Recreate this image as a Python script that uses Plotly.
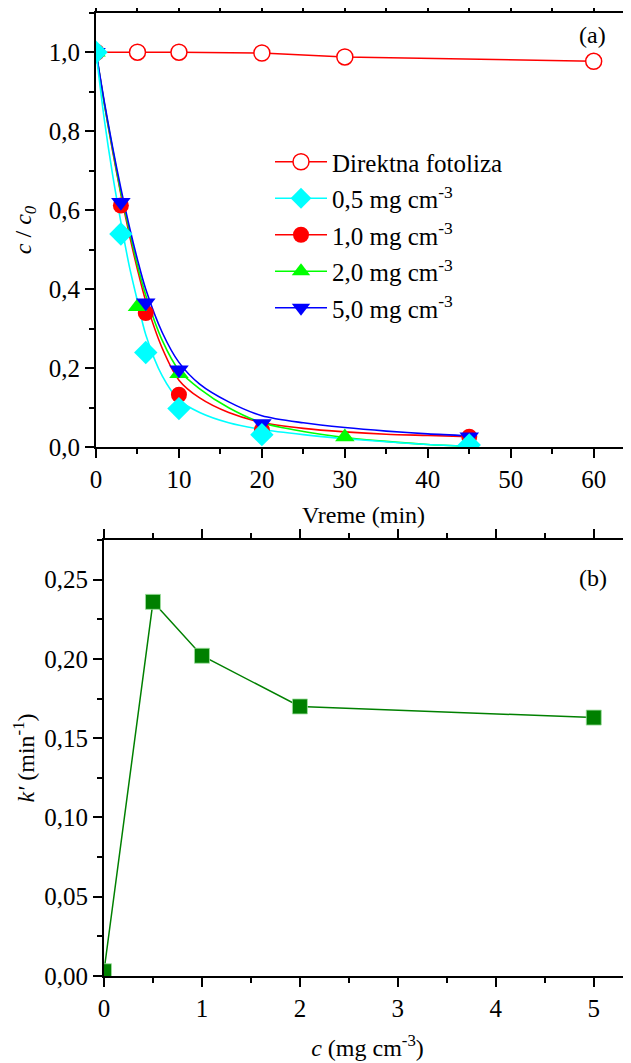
import plotly.graph_objects as go

# ---------------- data: panel (a) ----------------
t_direct = [0, 5, 10, 20, 30, 60]
c_direct = [1.0, 1.0, 1.0, 0.998, 0.988, 0.977]

t_05 = [0, 3, 6, 10, 20, 45]
c_05 = [1.0, 0.54, 0.24, 0.098, 0.032, 0.006]
t_10 = [0, 3, 6, 10, 20, 45]
c_10 = [1.0, 0.612, 0.34, 0.133, 0.044, 0.027]
t_20 = [0, 5, 10, 30, 45]
c_20 = [1.0, 0.356, 0.186, 0.026, 0.006]
t_50 = [0, 3, 6, 10, 20, 45]
c_50 = [1.0, 0.62, 0.366, 0.196, 0.06, 0.027]

# fitted curves
t_fit = [0, 1, 2, 3, 4, 5, 6, 8, 10, 12.5, 16, 20, 25, 30, 35, 40, 45]
fit_05 = [1.0, 0.83, 0.69, 0.57, 0.46, 0.37, 0.285, 0.18, 0.12, 0.088, 0.062, 0.045, 0.032, 0.022, 0.014, 0.007, 0.002]
fit_10 = [1.0, 0.87, 0.75, 0.64, 0.54, 0.45, 0.37, 0.25, 0.17, 0.125, 0.088, 0.063, 0.048, 0.039, 0.033, 0.030, 0.027]
fit_20 = [1.0, 0.87, 0.755, 0.645, 0.55, 0.46, 0.385, 0.27, 0.195, 0.148, 0.10, 0.062, 0.040, 0.025, 0.015, 0.007, 0.002]
fit_50 = [1.0, 0.875, 0.76, 0.655, 0.56, 0.475, 0.40, 0.29, 0.215, 0.16, 0.115, 0.08, 0.062, 0.05, 0.041, 0.034, 0.029]

legend_names = ["Direktna fotoliza",
                "0,5 mg cm<sup>-3</sup>",
                "1,0 mg cm<sup>-3</sup>",
                "2,0 mg cm<sup>-3</sup>",
                "5,0 mg cm<sup>-3</sup>"]

# ---------------- data: panel (b) ----------------
c_cat = [0, 0.5, 1, 2, 5]
k_rate = [0.003, 0.236, 0.202, 0.170, 0.163]

FONT = "Liberation Serif"
RED = "#ff0000"
CYAN = "#00ffff"
GREEN = "#00ff00"
BLUE = "#0000ff"
DGREEN = "#008000"

# page body has an 8px margin: work in window pixels and convert
OFF = 8
W, H = 631 - OFF, 1063 - OFF


def px(x):
    return (x - OFF) / W


def py(y):
    return 1 - (y - OFF) / H


fig = go.Figure()

leg_styles = [
    (RED, dict(symbol="circle", size=16, color="white", line=dict(color=RED, width=1.5))),
    (CYAN, dict(symbol="diamond", size=18, color=CYAN)),
    (RED, dict(symbol="circle", size=16, color=RED)),
    (GREEN, dict(symbol="triangle-up", size=17, color=GREEN)),
    (BLUE, dict(symbol="triangle-down", size=17, color=BLUE)),
]
for i, (name, (col, mk)) in enumerate(zip(legend_names, leg_styles)):
    fig.add_trace(go.Scatter(x=[None], y=[None], mode="lines+markers", name=name,
                             line=dict(color=col, width=1.5), marker=mk,
                             legendgroup=f"g{i}", showlegend=True,
                             xaxis="x", yaxis="y"))

for tf, yf, col in [(t_fit, fit_10, RED), (t_fit, fit_20, GREEN), (t_fit, fit_50, BLUE), (t_fit, fit_05, CYAN)]:
    fig.add_trace(go.Scatter(x=tf, y=yf, mode="lines", line=dict(color=col, width=1.6, shape="spline", smoothing=0.8),
                             showlegend=False, hoverinfo="skip", xaxis="x", yaxis="y"))

fig.add_trace(go.Scatter(x=t_direct, y=c_direct, mode="lines+markers",
                         line=dict(color=RED, width=1.5),
                         marker=dict(symbol="circle", size=16, color="white", line=dict(color=RED, width=1.5)),
                         showlegend=False, xaxis="x", yaxis="y"))

fig.add_trace(go.Scatter(x=t_10, y=c_10, mode="markers", marker=dict(symbol="circle", size=16, color=RED),
                         showlegend=False, xaxis="x", yaxis="y"))
fig.add_trace(go.Scatter(x=t_20, y=c_20, mode="markers", marker=dict(symbol="triangle-up", size=17, color=GREEN),
                         showlegend=False, xaxis="x", yaxis="y"))
fig.add_trace(go.Scatter(x=t_50, y=c_50, mode="markers", marker=dict(symbol="triangle-down", size=17, color=BLUE),
                         showlegend=False, xaxis="x", yaxis="y"))
fig.add_trace(go.Scatter(x=t_05, y=c_05, mode="markers", marker=dict(symbol="diamond", size=18, color=CYAN),
                         showlegend=False, xaxis="x", yaxis="y"))

fig.add_trace(go.Scatter(x=c_cat, y=k_rate, mode="lines+markers",
                         line=dict(color=DGREEN, width=1.5),
                         marker=dict(symbol="square", size=15, color=DGREEN, line=dict(color="#9fdf9f", width=0.8)),
                         showlegend=False, xaxis="x2", yaxis="y2"))

TICKFONT = dict(family=FONT, size=25, color="black")
TITLEFONT = dict(family=FONT, size=24, color="black")
axis_common = dict(showline=True, linecolor="black", linewidth=2, ticks="outside", ticklen=9, tickwidth=2,
                   tickcolor="black", showgrid=False, zeroline=False,
                   tickfont=TICKFONT, title_font=TITLEFONT, automargin=False)
minor_common = dict(ticks="outside", ticklen=5, tickwidth=2, tickcolor="black")

fig.update_layout(
    width=W, height=H, margin=dict(l=0, r=0, t=0, b=0),
    paper_bgcolor="white", plot_bgcolor="white",
    separators=",.",
    font=dict(family=FONT, size=24, color="black"),
    xaxis=dict(axis_common, domain=[px(96), 1.0], range=[0, 64.5], dtick=10, tickformat="d",
               mirror="ticks", anchor="y", minor=dict(minor_common, dtick=5),
               title=dict(text="Vreme (min)", standoff=14)),
    yaxis=dict(axis_common, domain=[py(447.3), py(12.7)], range=[0, 1.1], dtick=0.2, tickformat=".1f",
               anchor="x", minor=dict(minor_common, dtick=0.1),
               title=dict(text="<i>c</i> / <i>c</i><sub><i>0</i></sub>", standoff=10)),
    xaxis2=dict(axis_common, domain=[px(104), 1.0], range=[0, 5.38], dtick=1, tickformat="d",
                mirror="ticks", anchor="y2", minor=dict(minor_common, dtick=0.5),
                title=dict(text="<i>c</i> (mg cm<sup>-3</sup>)", standoff=18)),
    yaxis2=dict(axis_common, domain=[py(976), py(540)], range=[0, 0.275], dtick=0.05, tickformat=".2f",
                anchor="x2", minor=dict(minor_common, dtick=0.025),
                title=dict(text="<i>k'</i> (min<sup>-1</sup>)", standoff=3)),
    legend=dict(x=px(270), y=py(139), xanchor="left", yanchor="top",
                bgcolor="rgba(0,0,0,0)", borderwidth=0, itemwidth=52, tracegroupgap=1,
                font=dict(family=FONT, size=25, color="black")),
    annotations=[
        dict(text="(a)", x=px(592), y=py(35), xref="paper", yref="paper", showarrow=False,
             xanchor="center", yanchor="middle", font=dict(family=FONT, size=24, color="black")),
        dict(text="(b)", x=px(593), y=py(578), xref="paper", yref="paper", showarrow=False,
             xanchor="center", yanchor="middle", font=dict(family=FONT, size=24, color="black")),
    ],
)

fig.write_html("out.html")
